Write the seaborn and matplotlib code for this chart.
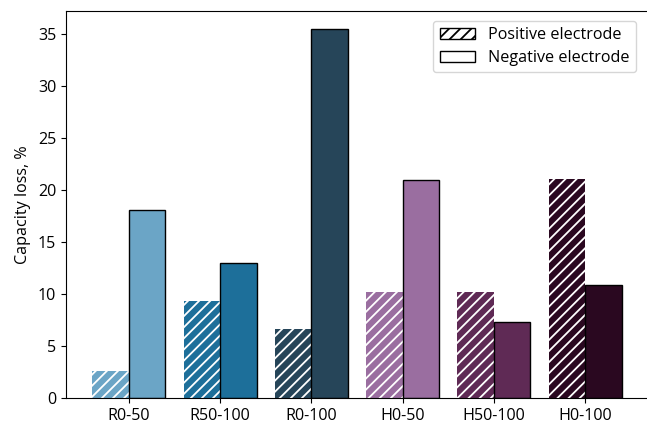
import matplotlib
matplotlib.use("Agg")
import matplotlib.pyplot as plt
from matplotlib.patches import Patch
import seaborn as sns
import pandas as pd

cases = ["R0-50", "R50-100", "R0-100", "H0-50", "H50-100", "H0-100"]
positive = [2.6, 9.3, 6.6, 10.2, 10.2, 21.0]
negative = [18.1, 13.0, 35.4, 20.9, 7.3, 10.9]
colors = ["#6ba5c6", "#1d6f9a", "#264559", "#9a6ea0", "#5f2a55", "#2a0820"]
electrodes = ["Positive electrode", "Negative electrode"]

df = pd.DataFrame({
    "case": cases * 2,
    "loss": positive + negative,
    "electrode": [electrodes[0]] * len(cases) + [electrodes[1]] * len(cases),
})

plt.rcParams["hatch.linewidth"] = 1.3
plt.rcParams["font.family"] = ["Open Sans", "DejaVu Sans"]
plt.rcParams["font.size"] = 11.6
fig = plt.figure(figsize=(6.47, 4.23), dpi=100)
ax = fig.add_axes([66 / 647, 1 - 398 / 423, (648 - 66) / 647, (398 - 11) / 423])

sns.barplot(data=df, x="case", y="loss", hue="electrode", order=cases,
            hue_order=electrodes, errorbar=None, width=0.8, legend=False, ax=ax)

for bar, c in zip(ax.containers[0], colors):
    bar.set_facecolor(c)
    bar.set_edgecolor("white")
    bar.set_linewidth(0)
    bar.set_hatch("///")
for bar, c in zip(ax.containers[1], colors):
    bar.set_facecolor(c)
    bar.set_edgecolor("black")
    bar.set_linewidth(1.0)

ax.set_xlim(-0.69, 5.69)
ax.set_ylim(0, 37.17)
ax.set_xlabel("")
ax.set_ylabel("Capacity loss, %", labelpad=5)
for s in ax.spines.values():
    s.set_visible(True)

handles = [Patch(facecolor="white", edgecolor="black", hatch="///"),
           Patch(facecolor="white", edgecolor="black")]
ax.legend(handles, electrodes, loc="upper right", bbox_to_anchor=(0.993, 0.995),
          handlelength=2.2, borderpad=0.4, labelspacing=0.4)

fig.savefig("out.png", dpi=100)
